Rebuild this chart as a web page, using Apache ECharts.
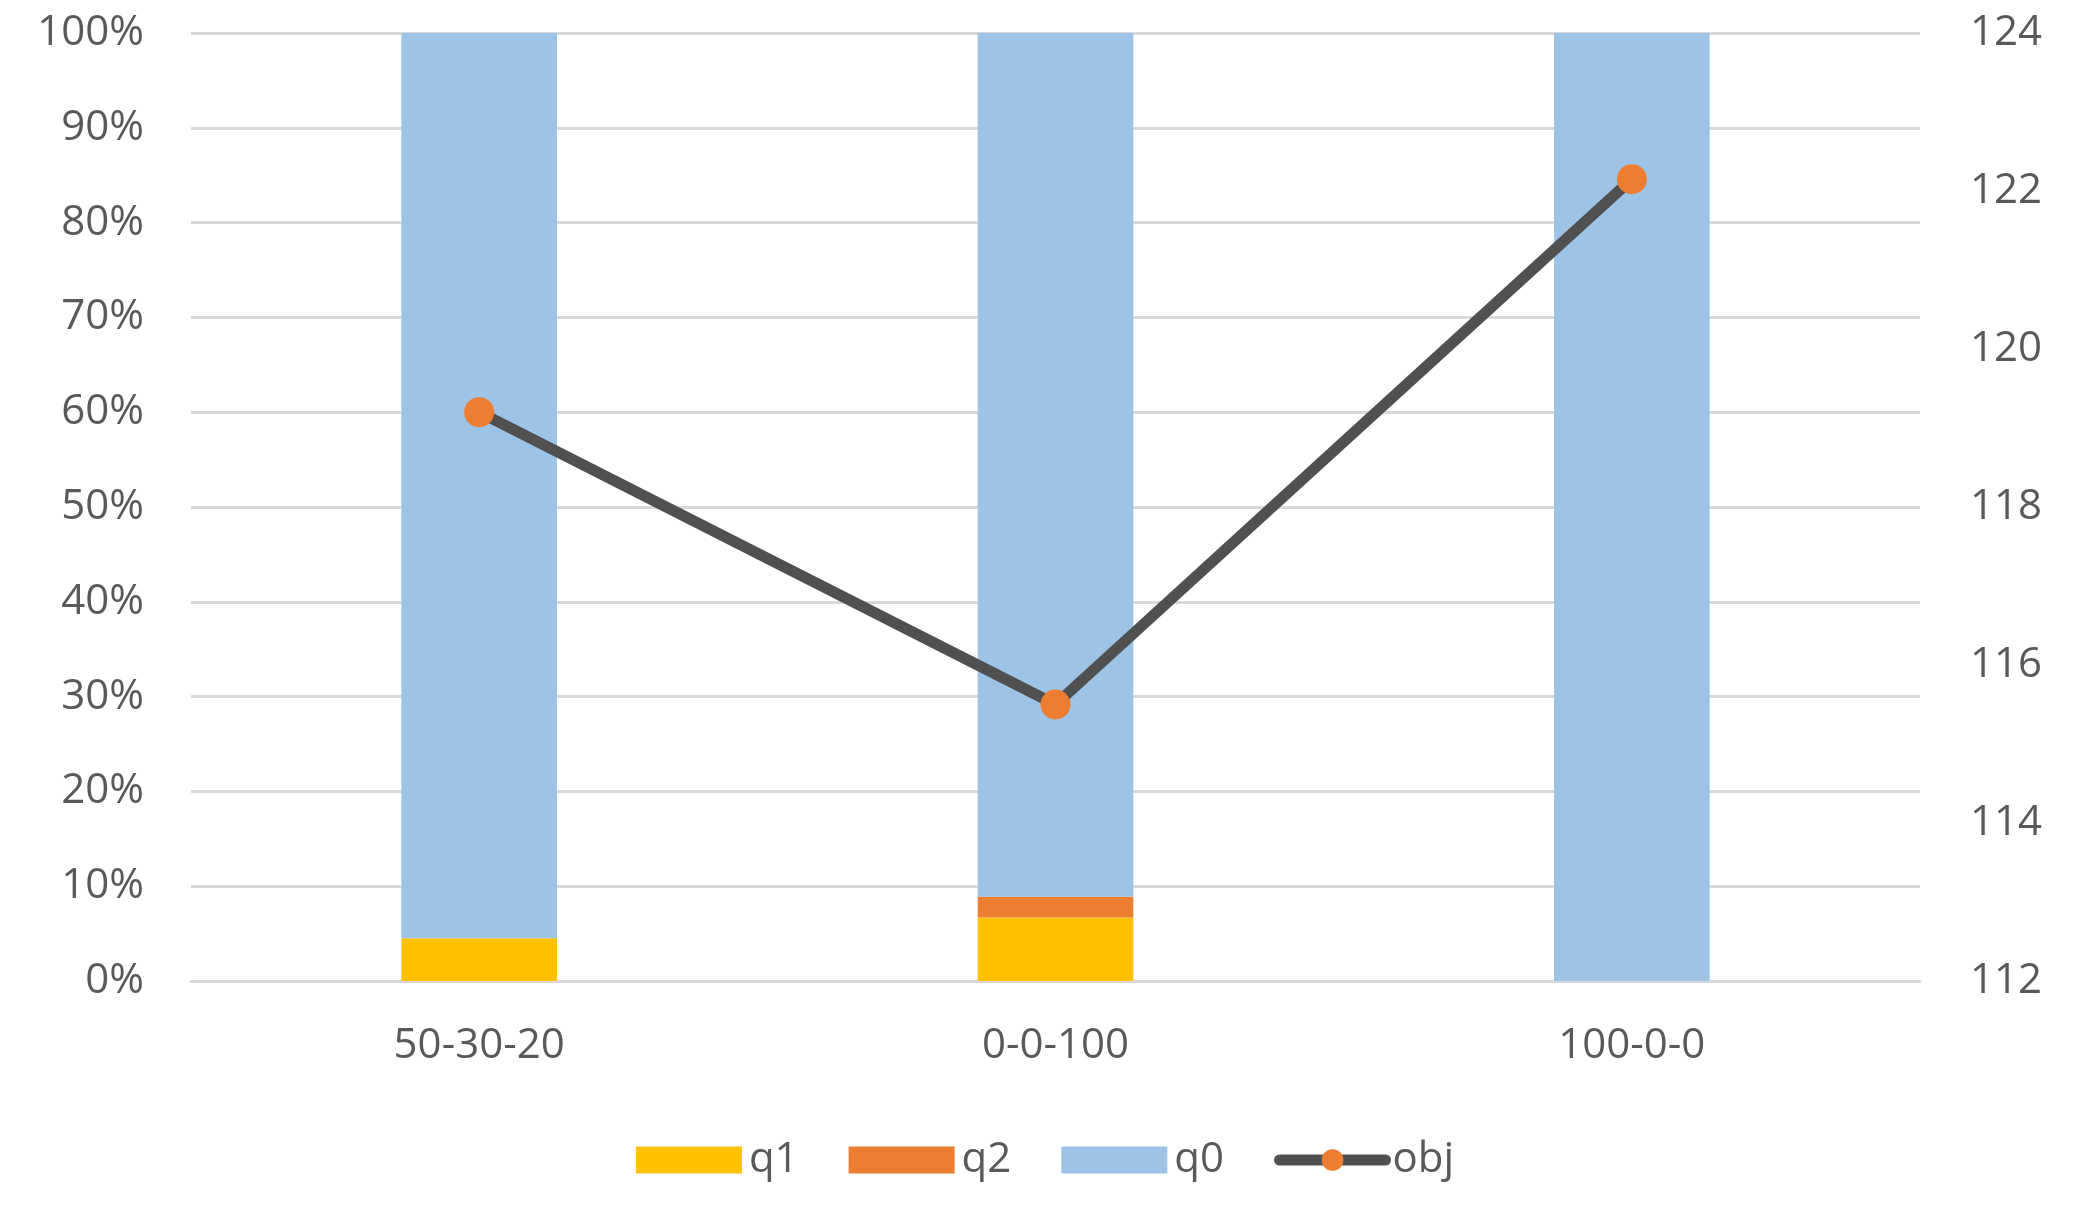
<!DOCTYPE html>
<html>
<head>
<meta charset="utf-8">
<script src="https://cdn.jsdelivr.net/npm/echarts@6/dist/echarts.min.js"></script>
<style>html,body{margin:0;padding:0;background:#fff;}#c{width:2090px;height:1220px;}</style>
</head>
<body>
<div id="c"></div>
<script>
const categories = ['50-30-20', '0-0-100', '100-0-0'];
const q1 = [4.5, 6.7, 0];
const q2 = [0, 2.2, 0];
const q0 = [95.5, 91.1, 100];
const obj = [119.2, 115.5, 122.15];
const leftTicks = {min: 0, max: 100, interval: 10};
const rightTicks = {min: 112, max: 124, interval: 2};

const FONT = '"Open Sans", sans-serif';
const TXT = '#595959';
const chart = echarts.init(document.getElementById('c'));
chart.setOption({
  animation: false,
  backgroundColor: '#ffffff',
  grid: {left: 191, right: 170, top: 33, bottom: 239},
  legend: {
    bottom: 34, left: 'center',
    itemWidth: 106, itemHeight: 27, itemGap: 50,
    textStyle: {fontFamily: FONT, fontSize: 42, color: TXT, padding: [0, 0, 0, 2]},
    data: [
      {name: 'q1', icon: 'rect'},
      {name: 'q2', icon: 'rect'},
      {name: 'q0', icon: 'rect'},
      {name: 'obj', lineStyle: {width: 11, color: '#505050', cap: 'round'}, itemStyle: {color: '#ED7D31'}}
    ]
  },
  xAxis: {
    type: 'category', data: categories,
    axisLine: {lineStyle: {color: '#D9D9D9', width: 3}},
    axisTick: {show: false},
    axisLabel: {fontFamily: FONT, fontSize: 42, color: TXT, margin: 44}
  },
  yAxis: [
    {
      type: 'value', min: leftTicks.min, max: leftTicks.max, interval: leftTicks.interval,
      axisLabel: {formatter: '{value}%', fontFamily: FONT, fontSize: 42, color: TXT, margin: 47},
      splitLine: {lineStyle: {color: '#D9D9D9', width: 3}},
      axisLine: {show: false}, axisTick: {show: false}
    },
    {
      type: 'value', min: rightTicks.min, max: rightTicks.max, interval: rightTicks.interval,
      axisLabel: {fontFamily: FONT, fontSize: 42, color: TXT, margin: 50},
      splitLine: {show: false}, axisLine: {show: false}, axisTick: {show: false}
    }
  ],
  series: [
    {name: 'q1', type: 'bar', stack: 's', data: q1, barWidth: '27%', itemStyle: {color: '#FFC000'}},
    {name: 'q2', type: 'bar', stack: 's', data: q2, barWidth: '27%', itemStyle: {color: '#ED7D31'}},
    {name: 'q0', type: 'bar', stack: 's', data: q0, barWidth: '27%', itemStyle: {color: '#9DC3E6'}},
    {name: 'obj', type: 'line', yAxisIndex: 1, data: obj,
      symbol: 'circle', symbolSize: 30,
      lineStyle: {color: '#505050', width: 11},
      itemStyle: {color: '#ED7D31', borderWidth: 0}, z: 5}
  ]
});
</script>
</body>
</html>
